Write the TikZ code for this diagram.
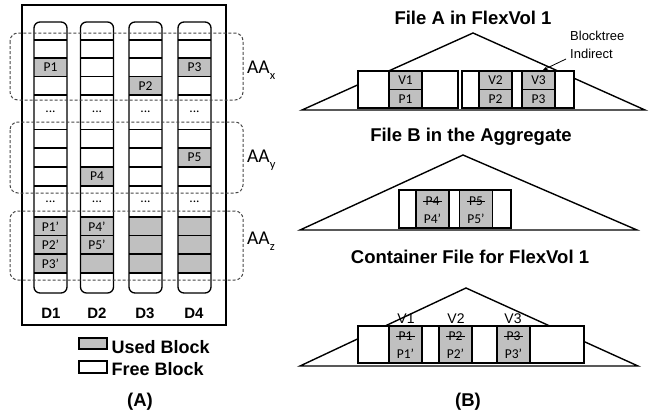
\documentclass[tikz,border=0pt]{standalone}
\usepackage{fontspec}
\setmainfont{Liberation Sans}
\newfontfamily\calfont{Carlito}
\usetikzlibrary{arrows.meta}
\definecolor{usedgray}{RGB}{192,192,192}
\definecolor{dashgray}{RGB}{70,70,70}
\begin{document}
\begin{tikzpicture}[x=1pt,y=-1pt,
  frame/.style={line width=1.4pt},
  cellline/.style={line width=1.3pt},
  aabox/.style={dashed, dash pattern=on 3pt off 2pt, draw=dashgray, line width=1pt, rounded corners=8pt},
  celltxt/.style={inner sep=0pt, font=\calfont\fontsize{13.5}{14}\selectfont},
  dlabel/.style={inner sep=0pt, font=\bfseries\fontsize{15}{16}\selectfont},
  aalabel/.style={inner sep=0pt, anchor=west, font=\calfont\fontsize{19.5}{20}\selectfont},
  title/.style={inner sep=0pt, font=\bfseries\fontsize{18.5}{20}\selectfont},
  legtxt/.style={inner sep=0pt, anchor=west, font=\bfseries\fontsize{18}{20}\selectfont},
  graycell/.style={draw, cellline, fill=usedgray, inner sep=0pt, minimum width=33pt},
  whitebox/.style={draw, cellline, fill=white, inner sep=0pt},
  vtxt/.style={inner sep=0pt, font=\fontsize{14}{14}\selectfont},
  strike/.style={line width=1pt, shorten <=-2pt, shorten >=-2pt},
  tri/.style={line width=1.4pt, line join=miter}
]
\useasboundingbox (0,0) rectangle (651,416);

%% ================= (A) =================
\draw[frame] (22,5) rectangle (226,325);

\foreach \cx in {50.5,97,145.5,194.5} {
  \fill[white] [rounded corners=6pt] (\cx-16.5,22) rectangle (\cx+16.5,293);
}
% used blocks
\foreach \cx/\ya/\yb in {50.5/58/76.5, 97/167/186, 145.5/76.5/95, 194.5/58/76.5, 194.5/148/167,
                         50.5/217/273, 97/217/273, 145.5/217/273, 194.5/217/273} {
  \fill[usedgray] (\cx-16.5,\ya) rectangle (\cx+16.5,\yb);
}
% block separators
\foreach \cx in {50.5,97,145.5,194.5} {
  \foreach \yy in {40,58,76.5,95,129.5,148,167,186,217,235.5,254,273} {
    \draw[cellline] (\cx-16.5,\yy) -- (\cx+16.5,\yy);
  }
  \draw[cellline, rounded corners=6pt] (\cx-16.5,22) rectangle (\cx+16.5,293);
}

% block texts
\node[celltxt] (p1)  at (50.5,67.25) {P1};
\node[celltxt] (p2)  at (145.5,85.75) {P2};
\node[celltxt] (p3)  at (194.5,67.25) {P3};
\node[celltxt] (p4)  at (97,176.5) {P4};
\node[celltxt] (p5)  at (194.5,157.5) {P5};
\node[celltxt] (p1n) at (50.5,226.25) {P1’};
\node[celltxt] (p2n) at (50.5,244.75) {P2’};
\node[celltxt] (p3n) at (50.5,263.5) {P3’};
\node[celltxt] (p4n) at (97,226.25) {P4’};
\node[celltxt] (p5n) at (97,244.75) {P5’};

% ellipses
\node[celltxt] (ea1) at (50.5,112) {...};
\node[celltxt] (ea2) at (97,112) {...};
\node[celltxt] (ea3) at (145.5,112) {...};
\node[celltxt] (ea4) at (194.5,112) {...};
\node[celltxt] (eb1) at (50.5,201.5) {...};
\node[celltxt] (eb2) at (97,201.5) {...};
\node[celltxt] (eb3) at (145.5,201.5) {...};
\node[celltxt] (eb4) at (194.5,201.5) {...};

% disk labels
\node[dlabel] (d1) at (51,313) {D1};
\node[dlabel] (d2) at (97,313) {D2};
\node[dlabel] (d3) at (145,313) {D3};
\node[dlabel] (d4) at (194,313) {D4};

% allocation areas
\draw[aabox] (10,33) rectangle (243,100);
\draw[aabox] (10,122) rectangle (243,193);
\draw[aabox] (10,211) rectangle (243,280);
\node[aalabel] (aax) at (247,70) {AA\raisebox{-0.3em}{\fontsize{12.5}{12}\selectfont x}};
\node[aalabel] (aay) at (247,160) {AA\raisebox{-0.3em}{\fontsize{12.5}{12}\selectfont y}};
\node[aalabel] (aaz) at (247,241) {AA\raisebox{-0.3em}{\fontsize{12.5}{12}\selectfont z}};

% legend
\node[draw, cellline, fill=usedgray, minimum width=28pt, minimum height=11pt, inner sep=0pt] (usedbox) at (93,343.5) {};
\node[draw, cellline, fill=white, minimum width=28pt, minimum height=12pt, inner sep=0pt] (freebox) at (93,367) {};
\node[legtxt] (usedtxt) at (111.5,347.5) {Used Block};
\node[legtxt] (freetxt) at (111.5,369.5) {Free Block};

\node[title] (capA) at (140,402) {(A)};

%% ================= (B) =================
% File A in FlexVol 1
\node[title] (titA) at (473,18) {File A in FlexVol 1};
\draw[tri] (473,33) -- (302,110) -- (645,110) -- cycle;
\node[whitebox, minimum width=100pt, minimum height=37pt] (boxA1) at (408,89.5) {};
\node[whitebox, minimum width=112pt, minimum height=37pt] (boxA2) at (518,89.5) {};
\node[graycell, minimum height=18.5pt] (v1) at (405.5,80.25) {};
\node[graycell, minimum height=18.5pt] (a1) at (405.5,98.75) {};
\node[graycell, minimum height=18.5pt] (v2) at (495.5,80.25) {};
\node[graycell, minimum height=18.5pt] (a2) at (495.5,98.75) {};
\node[graycell, minimum height=18.5pt] (v3) at (538.5,80.25) {};
\node[graycell, minimum height=18.5pt] (a3) at (538.5,98.75) {};
\node[celltxt] at (v1) {V1};
\node[celltxt] at (a1) {P1};
\node[celltxt] at (v2) {V2};
\node[celltxt] at (a2) {P2};
\node[celltxt] at (v3) {V3};
\node[celltxt] at (a3) {P3};

\node[inner sep=0pt, anchor=north west, align=left, font=\fontsize{13}{17.5}\selectfont] (bt) at (570,31) {Blocktree\\Indirect};
\coordinate (btstart) at (566,59);
\coordinate (bttip) at (543,70);
\draw[line width=0.8pt, -{Stealth[length=5pt,width=4pt]}] (btstart) -- (bttip);

% File B in the Aggregate
\node[title] (titB) at (471,137) {File B in the Aggregate};
\draw[tri] (463,155) -- (300,230) -- (637,230) -- cycle;
\node[whitebox, minimum width=112pt, minimum height=38pt] (boxB) at (455,209) {};
\node[graycell, minimum height=38pt] (b4) at (432.5,209) {};
\node[graycell, minimum height=38pt] (b5) at (476,209) {};
\node[celltxt] (b4old) at (432.5,201) {P4};
\node[celltxt] (b4new) at (432.5,219) {P4’};
\node[celltxt] (b5old) at (476,201) {P5};
\node[celltxt] (b5new) at (476,219) {P5’};
\draw[strike] (b4old.west) -- (b4old.east);
\draw[strike] (b5old.west) -- (b5old.east);

% Container File for FlexVol 1
\node[title] (titC) at (470,257) {Container File for FlexVol 1};
\draw[tri] (466,288) -- (300,366) -- (638,366) -- cycle;
\node[whitebox, minimum width=226pt, minimum height=37pt] (boxC) at (471,344.5) {};
\node[graycell, minimum height=37pt] (c1) at (405.5,344.5) {};
\node[graycell, minimum height=37pt] (c2) at (455.5,344.5) {};
\node[graycell, minimum height=37pt] (c3) at (513.5,344.5) {};
\node[celltxt] (c1old) at (405.5,336.5) {P1};
\node[celltxt] (c1new) at (405.5,353.5) {P1’};
\node[celltxt] (c2old) at (455.5,336.5) {P2};
\node[celltxt] (c2new) at (455.5,353.5) {P2’};
\node[celltxt] (c3old) at (513.5,336.5) {P3};
\node[celltxt] (c3new) at (513.5,353.5) {P3’};
\draw[strike] (c1old.west) -- (c1old.east);
\draw[strike] (c2old.west) -- (c2old.east);
\draw[strike] (c3old.west) -- (c3old.east);
\node[vtxt] (cv1) at (406,319) {V1};
\node[vtxt] (cv2) at (456,319) {V2};
\node[vtxt] (cv3) at (513,319) {V3};

\node[title] (capB) at (468,402) {(B)};
\end{tikzpicture}
\end{document}
